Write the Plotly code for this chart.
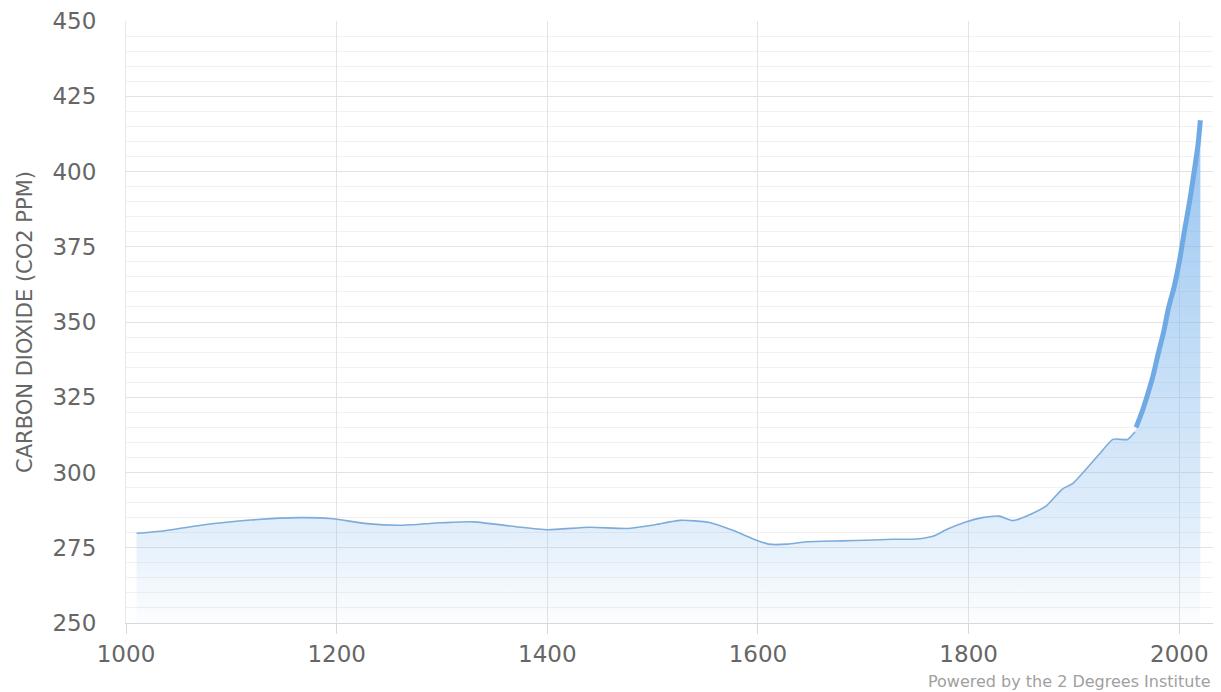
import plotly.graph_objects as go

# Ice-core record (year, ppm)
ice_years = [1010, 1033, 1071, 1118, 1166, 1194, 1229, 1260, 1300, 1330, 1370, 1400,
             1440, 1476, 1500, 1526, 1554, 1576, 1595, 1610, 1628, 1646, 1680, 1703,
             1728, 1751, 1766, 1780, 1798, 1813, 1829, 1842, 1860, 1874, 1889, 1899,
             1910, 1925, 1937, 1951, 1958]
ice_ppm = [279.8, 280.5, 282.5, 284.2, 285.0, 284.7, 283.0, 282.5, 283.3, 283.6, 282.0, 281.0,
           281.8, 281.4, 282.5, 284.1, 283.4, 280.8, 278.0, 276.2, 276.2, 277.0, 277.3, 277.5,
           277.8, 277.9, 278.8, 281.2, 283.6, 285.0, 285.5, 284.0, 286.3, 289.0, 294.5, 296.4,
           300.5, 306.5, 311.0, 311.0, 313.5]

# Modern direct measurements (year, ppm)
modern_years = [1959, 1965, 1970, 1975, 1980, 1985, 1990, 1995, 2000, 2005, 2010, 2015, 2018, 2020]
modern_ppm = [315.0, 320.5, 326.0, 332.0, 339.5, 346.5, 355.0, 361.5, 370.0, 380.5, 390.5, 402.0, 409.5, 417.0]

y_ticks = [250, 275, 300, 325, 350, 375, 400, 425, 450]
x_ticks = [1000, 1200, 1400, 1600, 1800, 2000]

all_years = ice_years + modern_years
all_ppm = ice_ppm + modern_ppm

fig = go.Figure()

fig.add_trace(go.Scatter(
    x=all_years, y=all_ppm, mode="lines",
    line=dict(color="rgba(124,181,236,0)", width=0, shape="spline", smoothing=0.6),
    fill="tozeroy",
    fillgradient=dict(
        type="vertical", start=250, stop=420,
        colorscale=[[0, "rgba(124,181,236,0.02)"], [0.18, "rgba(124,181,236,0.22)"],
                    [1, "rgba(124,181,236,0.8)"]],
    ),
    hoverinfo="skip", showlegend=False,
))

fig.add_trace(go.Scatter(
    x=ice_years, y=ice_ppm, mode="lines",
    line=dict(color="rgb(126,172,218)", width=1.6, shape="spline", smoothing=0.6),
    showlegend=False,
))

fig.add_trace(go.Scatter(
    x=modern_years, y=modern_ppm, mode="lines",
    line=dict(color="rgb(112,170,228)", width=5, shape="spline", smoothing=0.6),
    showlegend=False,
))

fig.update_layout(
    width=1221, height=692,
    margin=dict(l=126, r=8, t=21, b=69),
    plot_bgcolor="white", paper_bgcolor="white",
    font=dict(family="DejaVu Sans", color="#666666"),
    showlegend=False,
    xaxis=dict(
        range=[1000, 2032], tickvals=x_ticks, ticktext=[str(v) for v in x_ticks],
        showgrid=True, gridcolor="#e3e3e3", gridwidth=1,
        showline=True, linecolor="#d4d8e0", linewidth=1,
        ticks="outside", ticklen=10, tickcolor="#d4d8e0",
        tickfont=dict(size=23, color="#666666"), zeroline=False,
        automargin=False,
    ),
    yaxis=dict(
        range=[250, 450], tickvals=y_ticks, ticktext=[str(v) for v in y_ticks],
        showgrid=True, gridcolor="#e3e3e3", gridwidth=1,
        minor=dict(dtick=5, showgrid=True, gridcolor="#f1f1f1", gridwidth=1),
        showline=True, linecolor="#e8e8e8", linewidth=1,
        tickfont=dict(size=23, color="#666666"), zeroline=False,
        ticklabelstandoff=24,
        automargin=False,
        title=dict(text="CARBON DIOXIDE (CO2 PPM)", font=dict(size=21, color="#666666"),
                   standoff=14),
    ),
    annotations=[dict(
        text="Powered by the 2 Degrees Institute", xref="paper", yref="paper",
        x=1.0, y=0, xanchor="right", yanchor="middle", yshift=-58, showarrow=False,
        font=dict(size=16, color="#a0a0a0"),
    )],
)

fig.write_html(
    "out.html",
    config={"displayModeBar": False},
    post_script="document.body.style.margin='0';document.body.style.overflow='hidden';",
)
